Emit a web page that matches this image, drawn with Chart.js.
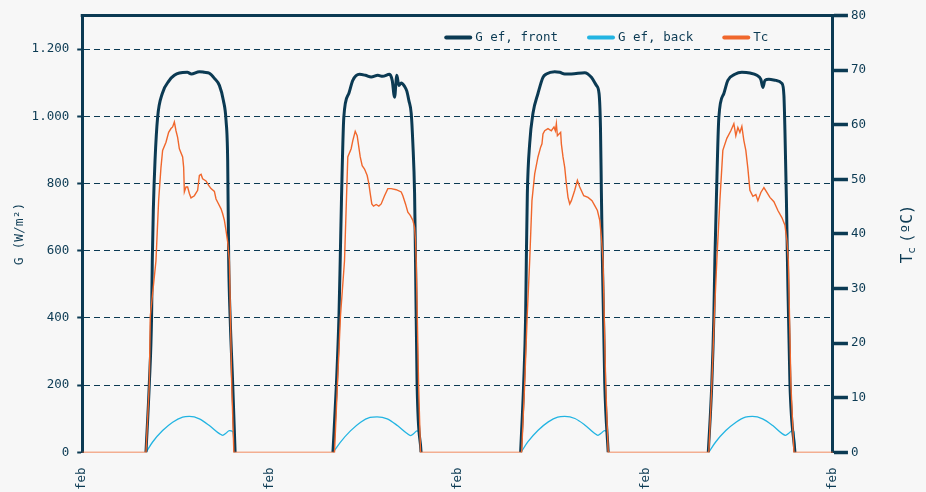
<!DOCTYPE html>
<html>
<head>
<meta charset="utf-8">
<script src="https://cdn.jsdelivr.net/npm/chart.js@4.4.1/dist/chart.umd.min.js"></script>
<style>
  html, body { margin: 0; padding: 0; background: #f7f7f7; }
  #wrap { width: 926px; height: 492px; position: relative; }
</style>
</head>
<body>
<div id="wrap"><canvas id="chart"></canvas></div>
<script>
// ---- data (x = hours from start of the window, 4 days) ----
// null = no irradiance record (night), the line breaks there
const dayTicks = [0, 24, 48, 72, 96];
const dayLabel = 'feb';

const frontHours = [
  8.15, 8.58, 8.87, 8.96, 9.09, 9.31, 9.64, 10.24, 11.14, 11.78, 12.42, 13.44, 13.95, 14.98, 15.62, 16.26, 16.9, 17.54, 18.05, 18.39, 18.6, 18.73, 18.91, 19.24, 19.55,
  24,
  32.06, 32.51, 32.83, 32.99, 33.15, 33.45, 34.09, 34.6, 35.46, 36.22, 36.95, 37.8, 38.4, 39.3, 39.64, 39.94, 40.23, 40.49, 40.79, 41.22, 41.51, 41.77, 42.07, 42.28, 42.5, 42.62, 42.82, 43.33,
  48,
  56.06, 56.45, 56.7, 56.79, 56.92, 57.22, 57.64, 58.28, 58.92, 59.35, 60.42, 61.06, 61.7, 62.55, 64.26, 65.11, 65.75, 66.09, 66.27, 66.39, 66.52, 66.82, 67.26,
  72,
  80.06, 80.51, 80.77, 80.9, 81.09, 81.41, 82.05, 82.56, 83.46, 84.35, 85.38, 86.27, 86.78, 87.04, 87.3, 87.81, 88.7, 89.47, 89.73, 89.86, 90.05, 90.18, 90.5, 91.14];
const frontG = [
  0, 205, 405, 571, 720, 869, 997, 1068, 1107, 1122, 1129, 1131, 1126, 1133, 1131, 1128, 1113, 1092, 1047, 988, 869, 571, 405, 205, 0,
  null,
  0, 205, 405, 571, 750, 997, 1068, 1107, 1125, 1122, 1117, 1122, 1119, 1125, 1107, 1057, 1122, 1092, 1099, 1089, 1075, 1047, 1009, 919, 771, 571, 205, 0,
  null,
  0, 205, 405, 571, 770, 919, 1009, 1068, 1116, 1126, 1133, 1131, 1126, 1126, 1130, 1116, 1092, 1068, 968, 771, 571, 205, 0,
  null,
  0, 205, 405, 571, 750, 997, 1068, 1107, 1125, 1131, 1129, 1122, 1110, 1086, 1107, 1110, 1107, 1098, 1062, 958, 750, 571, 205, 0];

const backHours = [
  8.15, 9.0, 10.28, 11.56, 12.84, 13.7, 14.98, 16.26, 17.54, 17.96, 18.37, 18.82, 19.24, 19.52,
  24,
  32.1, 33.0, 34.3, 35.6, 36.8, 37.7, 39.0, 40.3, 41.5, 42.0, 42.4, 42.8, 43.1, 43.35,
  48,
  56.1, 57.0, 58.3, 59.6, 60.8, 61.7, 63.0, 64.3, 65.5, 65.95, 66.35, 66.8, 67.1, 67.3,
  72,
  80.1, 81.0, 82.3, 83.6, 84.8, 85.7, 87.0, 88.3, 89.5, 89.95, 90.35, 90.8, 91.0, 91.2];
const backG = [
  0, 31, 65, 90, 105, 107, 100, 80, 56, 51, 57, 65, 62, 0,
  null,
  0, 30, 64, 90, 104, 106, 100, 80, 57, 50, 56, 64, 60, 0,
  null,
  0, 32, 66, 91, 105, 107, 101, 81, 57, 51, 57, 65, 61, 0,
  null,
  0, 31, 65, 90, 105, 107, 100, 80, 56, 51, 57, 65, 62, 0];

const tcHours = [0,
  8.15, 8.58, 8.7, 9.43, 9.77, 10.07, 10.28, 10.71, 11.05, 11.35, 11.56, 11.78, 11.99, 12.2, 12.42, 12.84, 12.97, 13.06, 13.27, 13.48, 13.7,
  13.91, 14.34, 14.76, 14.98, 15.2, 15.4, 15.83, 16.17, 16.47, 16.9, 17.11, 17.32, 17.75, 17.96, 18.18, 18.39, 18.6, 18.73, 18.82, 19.11, 19.39,
  32.26, 32.64, 33.02, 33.54, 33.96, 34.39, 34.6, 34.91, 35.16, 35.37, 35.55, 35.8, 36.1, 36.44, 36.65, 36.83, 37.03, 37.25,
  37.59, 37.93, 38.23, 38.66, 39.08, 39.51, 40.15, 40.79, 41.0, 41.34, 41.64, 41.95, 42.28, 42.5, 42.62, 42.71, 43.01, 43.26,
  56.19, 56.58, 56.9, 57.22, 57.51, 57.86, 58.28, 58.62, 58.79, 58.92, 59.14, 59.56, 59.99, 60.33, 60.5, 60.63, 60.76, 60.97, 61.18, 61.27,
  61.48, 61.7, 61.91, 62.12, 62.34, 62.55, 62.98, 63.32, 63.62, 64.13, 64.68, 65.19, 65.54, 65.88, 66.18, 66.39, 66.6, 66.94, 67.26,
  80.13, 80.51, 80.83, 81.15, 81.54, 81.92, 82.43, 82.94, 83.33, 83.58, 83.84, 84.1, 84.35, 84.61, 84.86, 85.12,
  85.38, 85.76, 86.14, 86.4, 86.78, 87.17, 87.55, 87.94, 88.45, 88.96, 89.47, 89.86, 90.11, 90.3, 90.62, 91.01,
  96];
const tcValues = [0,
  0, 12.6, 24.9, 35.1, 46.1, 52.2, 55.3, 56.8, 58.6, 59.3, 59.6, 60.5, 58.9, 57.7, 55.6, 54.1, 52.2, 47.7, 48.6, 48.6, 47.4,
  46.6, 47.0, 48.0, 50.7, 50.9, 50.1, 49.7, 48.9, 48.3, 47.8, 46.4, 45.8, 44.6, 43.7, 42.5, 40.6, 38.5, 36.4, 35.1, 12.6, 0,
  0, 12.6, 24.9, 35.1, 54.1, 55.6, 57.1, 58.8, 58.0, 55.9, 54.1, 52.5, 51.9, 50.7, 49.2, 47.4, 45.5, 45.1,
  45.4, 45.1, 45.5, 47.0, 48.3, 48.3, 48.1, 47.7, 47.0, 45.5, 44.0, 43.4, 42.5, 41.2, 38.8, 35.1, 12.6, 0,
  0, 12.6, 24.9, 35.1, 46.1, 51.0, 54.1, 55.9, 56.5, 58.3, 58.9, 59.3, 58.9, 59.6, 58.9, 60.2, 58.0, 58.3, 58.6, 56.5,
  54.1, 52.2, 49.2, 46.7, 45.5, 46.1, 48.0, 49.8, 48.6, 47.0, 46.7, 46.1, 45.2, 44.3, 42.5, 39.4, 35.1, 12.6, 0,
  0, 12.6, 24.9, 35.1, 46.1, 55.3, 57.5, 58.9, 60.2, 58.0, 59.5, 58.6, 59.7, 57.1, 55.3, 52.0,
  48.0, 46.9, 47.2, 46.1, 47.6, 48.5, 47.6, 46.7, 45.9, 44.3, 43.0, 41.6, 38.8, 35.1, 12.6, 0,
  0];

// ---- style ----
const NAVY = '#0b3a53';
const CYAN = '#22b4e2';
const ORANGE = '#f0672c';
const FONT = "'DejaVu Sans Mono', monospace";

Chart.defaults.font.family = FONT;
Chart.defaults.font.size = 12.5;
Chart.defaults.color = NAVY;

const toPoints = (xs, ys) => xs.map((x, i) => ({ x, y: ys[i] }));

// top edge of the frame
const framePlugin = {
  id: 'frameTop',
  afterDraw(chart) {
    const { ctx, chartArea } = chart;
    ctx.save();
    ctx.strokeStyle = NAVY;
    ctx.lineWidth = 3;
    ctx.beginPath();
    ctx.moveTo(chartArea.left - 1.5, chartArea.top);
    ctx.lineTo(chartArea.right + 1.5, chartArea.top);
    ctx.stroke();
    ctx.restore();
  }
};

// legend drawn inside the plot, top right
const legendPlugin = {
  id: 'insideLegend',
  afterDraw(chart) {
    const { ctx, chartArea } = chart;
    let x = chartArea.left + 362;
    const y = chartArea.top + 22;
    ctx.save();
    ctx.font = '12.5px ' + FONT;
    ctx.textBaseline = 'middle';
    ctx.lineCap = 'round';
    chart.data.datasets.forEach(ds => {
      ctx.strokeStyle = ds.borderColor;
      ctx.lineWidth = 4;
      ctx.beginPath();
      ctx.moveTo(x + 2, y);
      ctx.lineTo(x + 26, y);
      ctx.stroke();
      ctx.fillStyle = NAVY;
      ctx.fillText(ds.label, x + 31, y);
      x += 31 + ctx.measureText(ds.label).width + 29;
    });
    ctx.restore();
  }
};

// right axis title, read bottom to top, with subscript c
const rightTitlePlugin = {
  id: 'rightTitle',
  afterDraw(chart) {
    const { ctx, chartArea } = chart;
    const big = '16px ' + FONT, small = '11px ' + FONT;
    ctx.save();
    ctx.translate(906, (chartArea.top + chartArea.bottom) / 2);
    ctx.rotate(-Math.PI / 2);
    ctx.fillStyle = NAVY;
    ctx.textBaseline = 'alphabetic';
    ctx.font = big; const wT = ctx.measureText('T').width;
    ctx.font = small; const wc = ctx.measureText('c').width;
    ctx.font = big; const wRest = ctx.measureText('(ºC)').width;
    let x = -(wT + wc + 4 + wRest) / 2;
    ctx.font = big; ctx.fillText('T', x, 6); x += wT;
    ctx.font = small; ctx.fillText('c', x, 9); x += wc + 4;
    ctx.font = big; ctx.fillText('(ºC)', x, 6);
    ctx.restore();
  }
};

new Chart(document.getElementById('chart'), {
  type: 'line',
  data: {
    datasets: [
      {
        label: 'G ef, front',
        data: toPoints(frontHours, frontG),
        borderColor: NAVY,
        backgroundColor: NAVY,
        borderWidth: 3,
        pointRadius: 0,
        cubicInterpolationMode: 'monotone',
        spanGaps: false,
        yAxisID: 'y',
        order: 1,
      },
      {
        label: 'G ef, back',
        data: toPoints(backHours, backG),
        borderColor: CYAN,
        backgroundColor: CYAN,
        borderWidth: 1.3,
        pointRadius: 0,
        cubicInterpolationMode: 'monotone',
        spanGaps: false,
        yAxisID: 'y',
        order: 2,
      },
      {
        label: 'Tc',
        data: toPoints(tcHours, tcValues),
        borderColor: ORANGE,
        backgroundColor: ORANGE,
        borderWidth: 1.4,
        pointRadius: 0,
        tension: 0,
        yAxisID: 'y1',
        order: 0,
      },
    ]
  },
  options: {
    responsive: true,
    maintainAspectRatio: false,
    animation: false,
    layout: { padding: { left: 12, right: 57, top: 15, bottom: 2 } },
    scales: {
      x: {
        type: 'linear',
        min: 0,
        max: 96,
        afterBuildTicks: (scale) => { scale.ticks = dayTicks.map(v => ({ value: v })); },
        ticks: {
          autoSkip: false,
          minRotation: 90,
          maxRotation: 90,
          padding: 0,
          callback: () => dayLabel,
        },
        grid: { display: false, drawTicks: true, tickLength: 15 },
        border: { display: false },
      },
      y: {
        position: 'left',
        min: 0,
        max: 1300,
        ticks: {
          stepSize: 200,
          includeBounds: false,
          padding: 8,
          callback: v => String(v).replace(/\B(?=(\d{3})+(?!\d))/g, '.'),
        },
        grid: {
          color: c => (c.tick && c.tick.value === 0) ? 'rgba(0,0,0,0)' : NAVY,
          lineWidth: 1,
          tickColor: NAVY,
          tickLength: 5,
          tickWidth: 2,
        },
        border: { display: true, color: NAVY, width: 3, dash: [6, 4] },
        title: { display: true, text: 'G (W/m²)', color: NAVY, font: { size: 13 }, padding: { top: 0, bottom: -4 } },
      },
      y1: {
        position: 'right',
        min: 0,
        max: 80,
        ticks: { stepSize: 10, padding: 3 },
        grid: {
          drawOnChartArea: false,
          tickColor: NAVY,
          tickLength: 15,
          tickWidth: 3.5,
        },
        border: { display: true, color: NAVY, width: 3 },
      },
    },
    plugins: {
      legend: { display: false },
      tooltip: { enabled: false },
    }
  },
  plugins: [framePlugin, legendPlugin, rightTitlePlugin]
});
</script>
</body>
</html>
